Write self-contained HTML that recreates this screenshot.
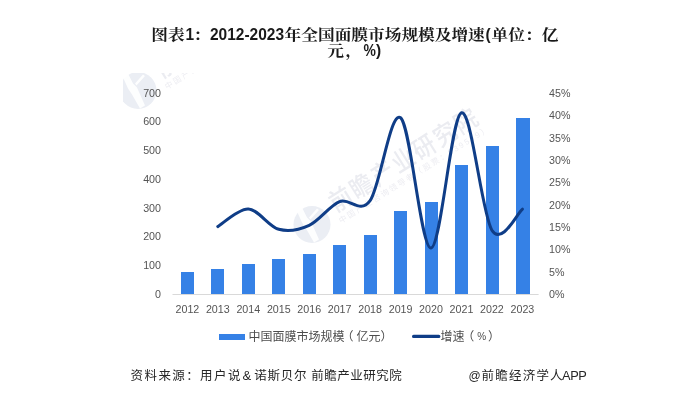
<!DOCTYPE html>
<html lang="zh-CN"><head><meta charset="utf-8"><title>图表1：2012-2023年全国面膜市场规模及增速</title>
<style>
html,body{margin:0;padding:0;background:#fff;}
body{width:692px;height:403px;overflow:hidden;position:relative;}
svg{position:absolute;left:0;top:0;display:block;}
.ax{font-family:"Liberation Sans",sans-serif;font-size:10.7px;fill:#545454;}
.lg{font-family:"Liberation Sans","Noto Sans CJK SC",sans-serif;font-size:12px;fill:#4d4d4d;}
.ft{font-family:"Liberation Sans","Noto Sans CJK SC",sans-serif;fill:#262626;}
.tc{font-family:"Liberation Sans","Noto Serif CJK SC",serif;font-weight:bold;fill:#1a1a1a;}
.tl{font-family:"Liberation Sans",sans-serif;font-weight:bold;fill:#1a1a1a;}
.wm{font-family:"Liberation Sans","Noto Sans CJK SC",sans-serif;font-weight:500;fill:#ebecf1;}
.wm2{font-family:"Liberation Sans","Noto Sans CJK SC",sans-serif;font-weight:400;fill:#ededf2;letter-spacing:1.9px;}
</style></head><body>
<svg width="692" height="403" viewBox="0 0 692 403">
<rect width="692" height="403" fill="#fff"/>

<defs><clipPath id="c1"><rect x="123" y="73" width="400" height="300"/></clipPath></defs>
<g transform="translate(312,224.5) rotate(-32) scale(1.0)"><g transform="rotate(32)"><circle cx="0" cy="0" r="18.5" fill="#ebeef4"/><path d="M-15,-13 L-10,-17 L-5,-7 L-1,-3 L7,15 L2,18 L-6,4 L-10,-2 Z M-3,-7 L5,-16 L7,-14.5 L-1.5,-5 Z" fill="#fff" opacity="0.9"/></g><text class="wm" transform="translate(26.5,2.8) scale(1,1.12)" style="font-size:22.5px;letter-spacing:2.1px">前瞻产业研究院</text><text class="wm2" x="25" y="14.6" style="font-size:8px">中国产业咨询领导者（股票：839599）</text></g>
<g clip-path="url(#c1)"><g transform="translate(138,90.5) rotate(-32) scale(1.0)"><g transform="rotate(32)"><circle cx="0" cy="0" r="18.5" fill="#ebeef4"/><path d="M-15,-13 L-10,-17 L-5,-7 L-1,-3 L7,15 L2,18 L-6,4 L-10,-2 Z M-3,-7 L5,-16 L7,-14.5 L-1.5,-5 Z" fill="#fff" opacity="0.9"/></g><text class="wm" transform="translate(26.5,2.8) scale(1,1.12)" style="font-size:22.5px;letter-spacing:2.1px">前瞻产业研究院</text><text class="wm2" x="25" y="14.6" style="font-size:8px">中国产业咨询领导者（股票：839599）</text></g></g>
<text class="tc" transform="translate(151.3,40.4) scale(1.0774193548387097,0.94)" style="font-size:15.5px">图表</text>
<text class="tl" transform="translate(185.6,40.4) scale(1,1.1)" style="font-size:15.5px">1</text>
<text class="tc" transform="translate(193.5,40.4) scale(1.0774193548387097,0.94)" style="font-size:15.5px">：</text>
<text class="tl" transform="translate(210.0,40.4) scale(1,1.1)" style="font-size:15.5px">2012-2023</text>
<text class="tc" transform="translate(284.6,40.4) scale(1.0774193548387097,0.94)" style="font-size:15.5px">年全国面膜市场规模及增速</text>
<text class="tl" transform="translate(485.6,40.4) scale(1,1.1)" style="font-size:15.5px">(</text>
<text class="tc" transform="translate(491.6,40.4) scale(1.0774193548387097,0.94)" style="font-size:15.5px">单位：亿</text>
<text class="tc" transform="translate(327.2,55.5) scale(1.0774193548387097,0.94)" style="font-size:15.5px">元</text>
<text class="tc" transform="translate(345.6,55.5) scale(1.0774193548387097,0.94)" style="font-size:15.5px">，</text>
<text class="tl" transform="translate(363.4,56.2) scale(0.9,1.1)" style="font-size:15.5px">%</text>
<text class="tl" transform="translate(375.9,56.2) scale(1,1.1)" style="font-size:15.5px">)</text>
<text class="ax" x="161" y="297.9" text-anchor="end">0</text>
<text class="ax" x="161" y="269.1" text-anchor="end">100</text>
<text class="ax" x="161" y="240.2" text-anchor="end">200</text>
<text class="ax" x="161" y="211.7" text-anchor="end">300</text>
<text class="ax" x="161" y="183.0" text-anchor="end">400</text>
<text class="ax" x="161" y="154.1" text-anchor="end">500</text>
<text class="ax" x="161" y="125.1" text-anchor="end">600</text>
<text class="ax" x="161" y="97.1" text-anchor="end">700</text>
<text class="ax" x="549" y="297.9">0%</text>
<text class="ax" x="549" y="275.6">5%</text>
<text class="ax" x="549" y="253.3">10%</text>
<text class="ax" x="549" y="231.0">15%</text>
<text class="ax" x="549" y="208.7">20%</text>
<text class="ax" x="549" y="186.3">25%</text>
<text class="ax" x="549" y="164.0">30%</text>
<text class="ax" x="549" y="141.7">35%</text>
<text class="ax" x="549" y="119.4">40%</text>
<text class="ax" x="549" y="97.1">45%</text>
<rect x="181" y="272" width="13" height="22" fill="#3581E6"/>
<rect x="211" y="269" width="13" height="25" fill="#3581E6"/>
<rect x="242" y="264" width="13" height="30" fill="#3581E6"/>
<rect x="272" y="259" width="13" height="35" fill="#3581E6"/>
<rect x="303" y="254" width="13" height="40" fill="#3581E6"/>
<rect x="333" y="245" width="13" height="49" fill="#3581E6"/>
<rect x="364" y="235" width="13" height="59" fill="#3581E6"/>
<rect x="394" y="211" width="13" height="83" fill="#3581E6"/>
<rect x="425" y="202" width="13" height="92" fill="#3581E6"/>
<rect x="455" y="165" width="13" height="129" fill="#3581E6"/>
<rect x="486" y="146" width="13" height="148" fill="#3581E6"/>
<rect x="516" y="118" width="14" height="176" fill="#3581E6"/>
<rect x="172.5" y="294.0" width="366.1" height="1" fill="#d9d9d9"/>
<text class="ax" x="187.4" y="312.7" text-anchor="middle">2012</text>
<text class="ax" x="217.8" y="312.7" text-anchor="middle">2013</text>
<text class="ax" x="248.3" y="312.7" text-anchor="middle">2014</text>
<text class="ax" x="278.8" y="312.7" text-anchor="middle">2015</text>
<text class="ax" x="309.2" y="312.7" text-anchor="middle">2016</text>
<text class="ax" x="339.6" y="312.7" text-anchor="middle">2017</text>
<text class="ax" x="370.1" y="312.7" text-anchor="middle">2018</text>
<text class="ax" x="400.6" y="312.7" text-anchor="middle">2019</text>
<text class="ax" x="431.0" y="312.7" text-anchor="middle">2020</text>
<text class="ax" x="461.5" y="312.7" text-anchor="middle">2021</text>
<text class="ax" x="491.9" y="312.7" text-anchor="middle">2022</text>
<text class="ax" x="522.4" y="312.7" text-anchor="middle">2023</text>
<path d="M217.8,226.6 C222.9,223.7 238.2,208.6 248.3,209.0 C258.4,209.4 268.6,226.6 278.8,229.3 C288.9,232.0 299.1,229.9 309.2,225.3 C319.3,220.7 329.5,205.7 339.6,201.6 C349.8,197.5 360.0,214.7 370.1,200.7 C380.2,186.8 390.4,109.9 400.6,117.8 C410.7,125.6 420.9,248.9 431.0,248.0 C441.1,247.2 451.3,115.8 461.5,112.8 C471.6,109.9 481.8,214.1 491.9,230.2 C502.0,246.3 517.3,212.7 522.4,209.2" fill="none" stroke="#0F3D87" stroke-width="3" stroke-linecap="round" stroke-linejoin="round"/>
<rect x="219" y="334" width="26" height="6" fill="#3581E6"/>
<text class="lg" x="248.4" y="341">中国面膜市场规模</text>
<text class="lg" x="341.6" y="341">（</text>
<text class="lg" x="356.4" y="341">亿元）</text>
<line x1="413.6" y1="336.4" x2="438.8" y2="336.4" stroke="#0F3D87" stroke-width="3.2" stroke-linecap="round"/>
<text class="lg" x="440.5" y="341">增速</text>
<text class="lg" x="462.2" y="341">（</text>
<text class="lg" x="477.2" y="340.3" style="font-size:10px">%</text>
<text class="lg" x="488" y="341">）</text>
<text class="ft" x="130.6" y="380.3" style="font-size:12.5px;letter-spacing:1.4px">资料来源：用户说</text>
<text class="ft" x="242.6" y="380.3" style="font-size:13px;letter-spacing:0px">&amp;</text>
<text class="ft" x="254.2" y="380.3" style="font-size:12.5px;letter-spacing:0.8px">诺斯贝尔</text>
<text class="ft" x="311.3" y="380.3" style="font-size:12.5px;letter-spacing:0.5px">前瞻产业研究院</text>
<text class="ft" x="468.6" y="380.3" style="font-size:12px;letter-spacing:0px">@</text>
<text class="ft" x="481.6" y="380.3" style="font-size:12.5px;letter-spacing:1.2px">前瞻经济学人</text>
<text class="ft" x="561.9" y="380.3" style="font-size:12.8px;letter-spacing:-0.3px">APP</text>
</svg></body></html>
